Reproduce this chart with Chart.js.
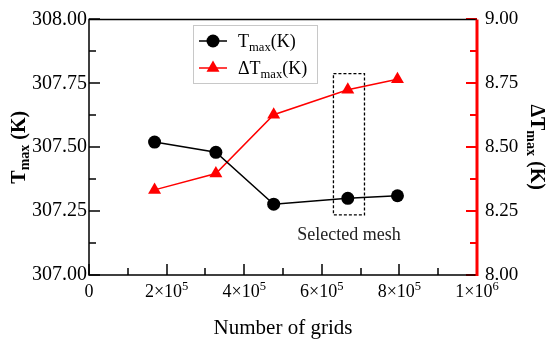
<!DOCTYPE html>
<html>
<head>
<meta charset="utf-8">
<script src="https://cdn.jsdelivr.net/npm/chart.js@4/dist/chart.umd.min.js"></script>
<style>
  html, body { margin: 0; padding: 0; background: #fff; }
  #wrap { width: 550px; height: 344px; }
</style>
</head>
<body>
<div id="wrap"><canvas id="chart" width="550" height="344"></canvas></div>
<script>
// data
const grids = [1.69e5, 3.27e5, 4.76e5, 6.67e5, 7.95e5];
const tmax = [307.52, 307.48, 307.277, 307.30, 307.31];
const dtmax = [8.333, 8.397, 8.627, 8.725, 8.766];

const xTicks = [0, 2e5, 4e5, 6e5, 8e5, 1e6];
// [mantissa part, exponent]
const xTickLabels = [['0', ''], ['2×10', '5'], ['4×10', '5'], ['6×10', '5'], ['8×10', '5'], ['1×10', '6']];

const seriesNames = [
    [{ t: 'T' }, { t: 'max', sub: true }, { t: '(K)' }],
    [{ t: 'ΔT' }, { t: 'max', sub: true }, { t: '(K)' }]
];
const leftTitle = [{ t: 'T' }, { t: 'max', sub: true }, { t: ' (K)' }];
const rightTitle = [{ t: 'ΔT' }, { t: 'max', sub: true }, { t: ' (K)' }];
const xTitle = 'Number of grids';

// selected mesh box (x in grids, y on left axis)
const selBox = { x0: 6.3e5, x1: 7.1e5, y0: 307.235, y1: 307.788 };
const selLabel = { text: 'Selected mesh', x: 6.7e5, y: 307.157 };

const SERIF = '"Liberation Serif", "Times New Roman", serif';

// 첨자 포함 텍스트 그리기
function richWidth(ctx, parts, size, bold) {
    let w = 0;
    for (const p of parts) {
        ctx.font = (bold ? 'bold ' : '') + (p.sub || p.sup ? size * 0.7 : size) + 'px ' + SERIF;
        w += ctx.measureText(p.t).width;
    }
    return w;
}
function drawRich(ctx, parts, x, y, size, bold) {
    ctx.textBaseline = 'alphabetic';
    ctx.textAlign = 'left';
    for (const p of parts) {
        const small = p.sub || p.sup;
        const s = small ? size * 0.7 : size;
        ctx.font = (bold ? 'bold ' : '') + s + 'px ' + SERIF;
        let dy = 0;
        if (p.sub) dy = size * 0.22;
        if (p.sup) dy = -size * 0.38;
        ctx.fillText(p.t, x, y + dy);
        x += ctx.measureText(p.t).width;
    }
}

const framePlugin = {
    id: 'frame',
    afterDraw(chart) {
        const ctx = chart.ctx;
        const a = chart.chartArea;
        const sx = chart.scales.x, sy = chart.scales.y, sy1 = chart.scales.y1;
        ctx.save();

        // inward ticks
        ctx.strokeStyle = '#000';
        ctx.lineWidth = 1.5;
        for (let v = 0; v <= 1e6 + 1; v += 1e5) {
            const px = Math.round(sx.getPixelForValue(v));
            const major = Math.round(v / 1e5) % 2 === 0;
            ctx.beginPath();
            ctx.moveTo(px, a.bottom);
            ctx.lineTo(px, a.bottom - (major ? 11 : 7));
            ctx.stroke();
        }
        for (let i = 0; i <= 8; i++) {
            const v = 307 + i * 0.125;
            const py = Math.round(sy.getPixelForValue(v));
            ctx.beginPath();
            ctx.moveTo(a.left, py);
            ctx.lineTo(a.left + (i % 2 === 0 ? 11 : 7), py);
            ctx.stroke();
        }
        ctx.strokeStyle = '#ff0000';
        ctx.lineWidth = 2;
        for (let i = 0; i <= 8; i++) {
            const v = 8 + i * 0.125;
            const py = Math.round(sy1.getPixelForValue(v));
            ctx.beginPath();
            ctx.moveTo(a.right, py);
            ctx.lineTo(a.right - (i % 2 === 0 ? 11 : 7), py);
            ctx.stroke();
        }

        // frame
        ctx.strokeStyle = '#000';
        ctx.lineWidth = 1.5;
        ctx.beginPath();
        ctx.moveTo(a.right, a.top);
        ctx.lineTo(a.left, a.top);
        ctx.lineTo(a.left, a.bottom);
        ctx.lineTo(a.right, a.bottom);
        ctx.stroke();
        ctx.strokeStyle = '#ff0000';
        ctx.lineWidth = 3;
        ctx.beginPath();
        ctx.moveTo(a.right, a.top);
        ctx.lineTo(a.right, a.bottom + 1);
        ctx.stroke();

        // x tick labels with superscript exponent
        ctx.fillStyle = '#000';
        xTicks.forEach((v, i) => {
            const [base, exp] = xTickLabels[i];
            const parts = [{ t: base }];
            if (exp) parts.push({ t: exp, sup: true });
            const w = richWidth(ctx, parts, 18, false);
            drawRich(ctx, parts, sx.getPixelForValue(v) - w / 2, 297, 18, false);
        });

        // selected mesh box
        ctx.strokeStyle = '#000';
        ctx.lineWidth = 1.3;
        ctx.setLineDash([3, 2]);
        const bx0 = sx.getPixelForValue(selBox.x0), bx1 = sx.getPixelForValue(selBox.x1);
        const by0 = sy.getPixelForValue(selBox.y0), by1 = sy.getPixelForValue(selBox.y1);
        ctx.strokeRect(bx0, by1, bx1 - bx0, by0 - by1);
        ctx.setLineDash([]);
        ctx.fillStyle = '#222';
        ctx.font = '18px ' + SERIF;
        ctx.textAlign = 'center';
        ctx.textBaseline = 'middle';
        ctx.fillText(selLabel.text, sx.getPixelForValue(selLabel.x), sy.getPixelForValue(selLabel.y));

        // axis titles
        ctx.fillStyle = '#000';
        ctx.font = '21px ' + SERIF;
        ctx.textAlign = 'center';
        ctx.textBaseline = 'middle';
        ctx.fillText(xTitle, (a.left + a.right) / 2, 328);

        const cy = (a.top + a.bottom) / 2;
        let w = richWidth(ctx, leftTitle, 20, true);
        ctx.save();
        ctx.translate(25, cy);
        ctx.rotate(-Math.PI / 2);
        drawRich(ctx, leftTitle, -w / 2, 0, 20, true);
        ctx.restore();

        w = richWidth(ctx, rightTitle, 20, true);
        ctx.save();
        ctx.translate(531, cy);
        ctx.rotate(Math.PI / 2);
        drawRich(ctx, rightTitle, -w / 2, 0, 20, true);
        ctx.restore();

        // legend
        const lg = { x: 193, y: 25, w: 124, h: 58 };
        ctx.strokeStyle = '#c8c8c8';
        ctx.lineWidth = 1;
        ctx.strokeRect(lg.x + 0.5, lg.y + 0.5, lg.w, lg.h);
        const rows = [41, 68];
        chart.data.datasets.forEach((ds, i) => {
            const ry = rows[i];
            ctx.strokeStyle = ds.borderColor;
            ctx.lineWidth = 1.5;
            ctx.beginPath();
            ctx.moveTo(199, ry);
            ctx.lineTo(227, ry);
            ctx.stroke();
            ctx.fillStyle = ds.backgroundColor;
            Chart.helpers.drawPoint(ctx, {
                pointStyle: ds.pointStyle, radius: ds.pointRadius, rotation: 0, borderWidth: 0
            }, 213, ry);
            ctx.fillStyle = '#000';
            drawRich(ctx, seriesNames[i], 238, ry + 6, 18, false);
        });

        ctx.restore();
    }
};

const ctx = document.getElementById('chart').getContext('2d');
new Chart(ctx, {
    type: 'scatter',
    data: {
        datasets: [
            {
                label: 'Tmax(K)',
                data: grids.map((g, i) => ({ x: g, y: tmax[i] })),
                yAxisID: 'y',
                showLine: true,
                borderColor: '#000',
                backgroundColor: '#000',
                borderWidth: 1.5,
                pointStyle: 'circle',
                pointRadius: 6.5,
                pointBorderWidth: 0
            },
            {
                label: 'ΔTmax(K)',
                data: grids.map((g, i) => ({ x: g, y: dtmax[i] })),
                yAxisID: 'y1',
                showLine: true,
                borderColor: '#ff0000',
                backgroundColor: '#ff0000',
                borderWidth: 1.5,
                pointStyle: 'triangle',
                pointRadius: 7.5,
                pointBorderWidth: 0
            }
        ]
    },
    options: {
        responsive: false,
        animation: false,
        layout: { padding: { top: 15, left: 0, right: 0, bottom: 0 } },
        plugins: {
            legend: { display: false },
            tooltip: { enabled: false }
        },
        scales: {
            x: {
                type: 'linear',
                min: 0,
                max: 1e6,
                afterBuildTicks: (s) => { s.ticks = xTicks.map(v => ({ value: v })); },
                afterFit: (s) => { s.height = 69; },
                grid: { display: false, drawTicks: false },
                border: { display: false },
                ticks: { display: false }
            },
            y: {
                type: 'linear',
                position: 'left',
                min: 307,
                max: 308,
                afterFit: (s) => { s.width = 89; },
                grid: { display: false, drawTicks: false },
                border: { display: false },
                ticks: {
                    stepSize: 0.25,
                    padding: 2,
                    color: '#000',
                    font: { family: SERIF, size: 20 },
                    callback: (v) => v.toFixed(2)
                }
            },
            y1: {
                type: 'linear',
                position: 'right',
                min: 8,
                max: 9,
                afterFit: (s) => { s.width = 73; },
                grid: { display: false, drawTicks: false },
                border: { display: false },
                ticks: {
                    stepSize: 0.25,
                    padding: 8,
                    color: '#000',
                    font: { family: SERIF, size: 19 },
                    callback: (v) => v.toFixed(2)
                }
            }
        }
    },
    plugins: [framePlugin]
});
</script>
</body>
</html>
